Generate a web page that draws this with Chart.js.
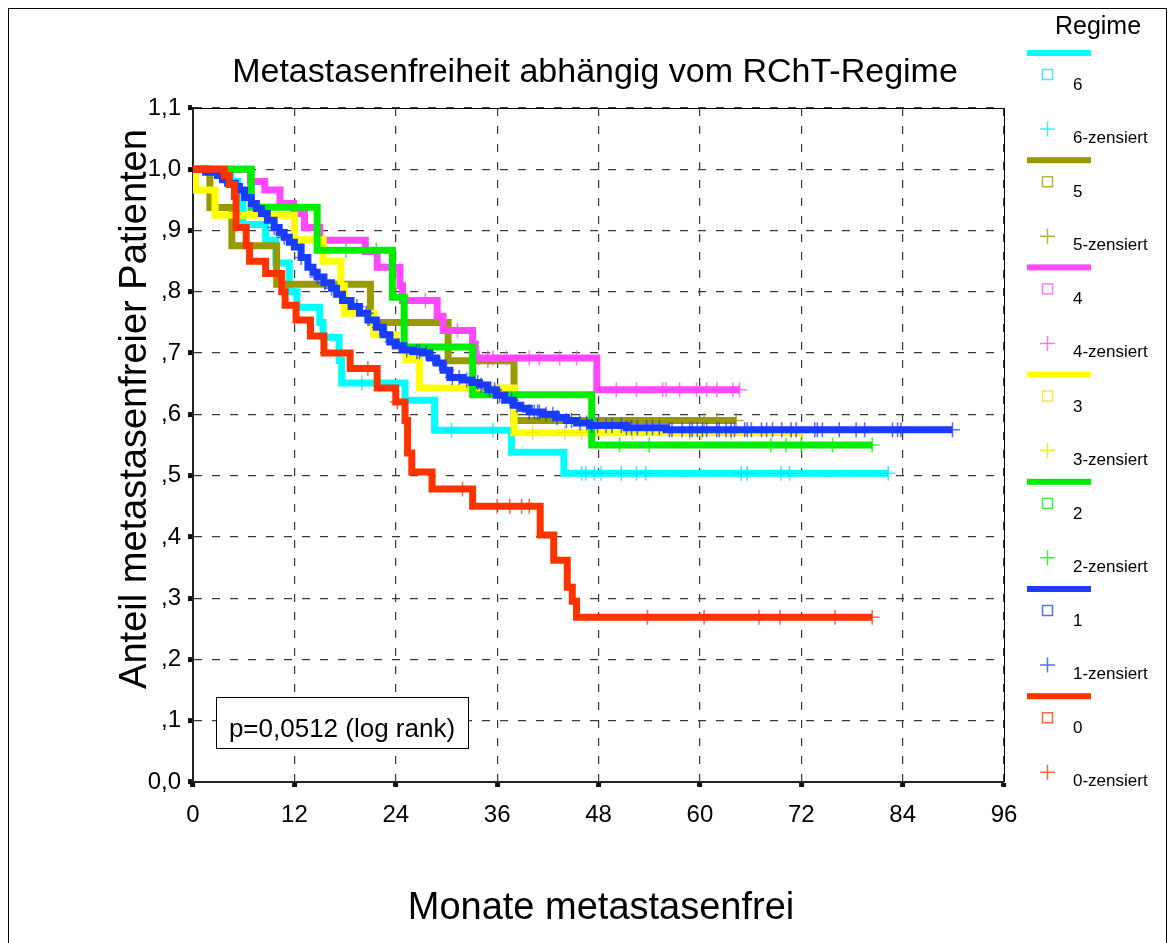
<!DOCTYPE html>
<html>
<head>
<meta charset="utf-8">
<script src="https://cdn.jsdelivr.net/npm/chart.js@4.4.0/dist/chart.umd.min.js"></script>
<style>
  html, body { margin: 0; padding: 0; background: #fff; }
  canvas { display: block; }
</style>
</head>
<body>
<canvas id="km" width="1175" height="943"></canvas>
<script>
// Kaplan-Meier: Monate bis Metastase, je Regime (Zeitpunkte + Anteil nach dem Ereignis)
const regime = ["0", "1", "2", "3", "4", "5", "6"];

const zeit0 = [0, 3.7, 4.3, 4.9, 5.1, 6.3, 6.7, 8.6, 10.5, 10.9, 12.2, 13.9, 15.5, 18.6, 21.8, 24.0, 25.1, 25.4, 25.9, 28.3, 33.1, 41.1, 42.7, 44.3, 44.9, 45.4, 80.4];
const anteil0 = [1.0, 0.99, 0.975, 0.955, 0.905, 0.875, 0.85, 0.83, 0.80, 0.778, 0.754, 0.728, 0.70, 0.675, 0.643, 0.62, 0.59, 0.537, 0.506, 0.478, 0.45, 0.403, 0.362, 0.318, 0.295, 0.269, 0.269];
const zens0 = [20.7, 24.2, 31.9, 36.0, 37.5, 38.9, 39.8, 53.8, 60.5, 67.0, 69.5, 76.0, 80.4];

const zeit1 = [0, 1.5, 2.9, 3.5, 4.1, 5.0, 5.5, 6.1, 6.9, 7.5, 8.1, 8.8, 9.6, 10.2, 10.8, 11.4, 12.0, 12.8, 13.6, 14.2, 14.7, 15.5, 16.4, 17.0, 17.7, 18.7, 19.7, 20.7, 21.7, 22.5, 23.3, 24.0, 24.8, 26.0, 27.2, 28.0, 28.8, 29.6, 30.4, 31.9, 33.0, 33.9, 34.9, 35.9, 36.9, 37.9, 38.8, 39.8, 41.4, 43.0, 44.2, 45.4, 47.0, 51.3, 56.0, 89.9];
const anteil1 = [1.0, 0.995, 0.99, 0.983, 0.977, 0.972, 0.966, 0.954, 0.944, 0.936, 0.928, 0.917, 0.905, 0.897, 0.889, 0.881, 0.873, 0.856, 0.84, 0.832, 0.824, 0.815, 0.806, 0.796, 0.786, 0.776, 0.765, 0.754, 0.742, 0.73, 0.718, 0.712, 0.705, 0.702, 0.70, 0.692, 0.684, 0.672, 0.66, 0.656, 0.652, 0.648, 0.64, 0.631, 0.623, 0.615, 0.61, 0.604, 0.60, 0.595, 0.59, 0.586, 0.582, 0.578, 0.575, 0.575];
const zens1 = [9.6, 10.8, 12.8, 14.7, 15.6, 16.4, 19.4, 20.5, 22.1, 22.9, 23.6, 24.4, 25.3, 26.5, 26.8, 27.6, 28.4, 29.2, 30.0, 30.7, 31.5, 32.4, 33.7, 34.1, 35.1, 35.7, 36.3, 37.7, 38.3, 39.8, 40.4, 40.8, 41.0, 41.8, 42.6, 43.1, 44.2, 44.8, 45.8, 46.6, 47.2, 47.9, 48.9, 49.6, 50.7, 51.3, 51.9, 52.6, 53.7, 54.4, 55.2, 56.4, 56.7, 57.9, 58.8, 59.1, 59.7, 60.3, 60.8, 62.0, 62.3, 63.1, 63.7, 64.1, 65.3, 65.6, 66.1, 67.3, 67.9, 68.6, 69.7, 70.8, 71.4, 73.6, 73.9, 74.5, 76.5, 78.5, 79.5, 82.8, 83.4, 83.8, 89.9];

const zeit2 = [0, 6.9, 14.7, 23.6, 25.0, 33.1, 47.2, 80.4];
const anteil2 = [1.0, 0.938, 0.868, 0.791, 0.71, 0.632, 0.55, 0.55];
const zens2 = [18.1, 21.7, 50.5, 54.0, 68.4, 70.2, 72.0, 75.7, 80.4];

const zeit3 = [0, 0.3, 2.6, 12.0, 15.4, 17.5, 17.9, 21.4, 24.0, 25.2, 26.8, 38.0, 72.1];
const anteil3 = [1.0, 0.966, 0.925, 0.885, 0.85, 0.81, 0.765, 0.73, 0.71, 0.69, 0.643, 0.57, 0.57];
const zens3 = [40.2, 44.0, 46.0, 52.0, 58.8, 60.2, 63.7, 70.8, 72.1];

const zeit4 = [0, 6.8, 8.5, 10.3, 11.9, 13.2, 15.0, 20.4, 21.8, 24.5, 24.8, 28.9, 29.6, 33.1, 33.4, 47.8, 64.7];
const anteil4 = [1.0, 0.98, 0.966, 0.944, 0.928, 0.905, 0.884, 0.866, 0.84, 0.81, 0.786, 0.76, 0.737, 0.715, 0.692, 0.64, 0.64];
const zens4 = [27.5, 31.3, 33.9, 34.9, 35.5, 37.1, 39.8, 41.0, 43.4, 45.4, 50.1, 52.5, 55.6, 56.0, 57.6, 59.6, 60.8, 62.0, 63.9, 64.7];

const zeit5 = [0, 2.0, 4.6, 9.9, 21.0, 30.2, 38.0, 64.3];
const anteil5 = [1.0, 0.9375, 0.875, 0.8125, 0.75, 0.6875, 0.59, 0.59];
const zens5 = [34.9, 60.5, 62.0, 64.3];

const zeit6 = [0, 4.5, 5.3, 5.9, 8.6, 9.8, 11.4, 12.3, 15.0, 15.4, 17.3, 17.6, 25.1, 28.6, 37.7, 43.9, 82.3];
const anteil6 = [1.0, 0.98, 0.955, 0.91, 0.884, 0.847, 0.80, 0.775, 0.75, 0.726, 0.688, 0.651, 0.623, 0.574, 0.538, 0.504, 0.504];
const zens6 = [20.0, 30.6, 35.5, 46.0, 46.5, 47.5, 48.3, 50.7, 52.5, 53.6, 64.9, 65.6, 69.6, 70.6, 82.3];

const xTicks = [0, 12, 24, 36, 48, 60, 72, 84, 96];
const yTicks = ["0,0", ",1", ",2", ",3", ",4", ",5", ",6", ",7", ",8", ",9", "1,0", "1,1"];

const zeiten = [zeit0, zeit1, zeit2, zeit3, zeit4, zeit5, zeit6];
const anteile = [anteil0, anteil1, anteil2, anteil3, anteil4, anteil5, anteil6];
const zensiert = [zens0, zens1, zens2, zens3, zens4, zens5, zens6];

const farben = ["#ff3300", "#1a3cff", "#00ee00", "#ffff00", "#ff48ff", "#999900", "#00ffff"];
const farbenHell = ["rgba(255,51,0,0.75)", "rgba(26,60,255,0.75)", "rgba(0,238,0,0.75)", "rgba(240,230,0,0.8)", "rgba(255,72,255,0.75)", "rgba(153,153,0,0.75)", "rgba(0,230,255,0.75)"];

const FONT = "Arial, 'Liberation Sans', sans-serif";

// value of the step curve at time t (for placing the censoring marks)
function anteilBei(g, t) {
  let v = anteile[g][0];
  zeiten[g].forEach((z, i) => { if (z <= t) v = anteile[g][i]; });
  return v;
}

const datasets = [];
regime.forEach((r, g) => {
  datasets.push({
    label: r + "-zensiert",
    data: zensiert[g].map(t => ({ x: t, y: anteilBei(g, t) })),
    showLine: false,
    pointStyle: "cross",
    pointRadius: 7.5,
    pointBorderWidth: 1.5,
    pointBorderColor: farbenHell[g],
    pointBackgroundColor: farbenHell[g],
  });
  datasets.push({
    label: r,
    data: zeiten[g].map((t, i) => ({ x: t, y: anteile[g][i] })),
    stepped: true,
    borderColor: farben[g],
    borderWidth: 7,
    borderJoinStyle: "miter",
    pointRadius: 0,
    fill: false,
  });
});

const decor = {
  id: "decor",
  afterDraw(chart) {
    const ctx = chart.ctx;
    const a = chart.chartArea;
    ctx.save();

    // outer frame
    ctx.strokeStyle = "#000";
    ctx.lineWidth = 1;
    ctx.strokeRect(8.5, 8.5, 1158, 1000);

    // top and right edge of plot box
    ctx.beginPath();
    ctx.moveTo(a.left, a.top + 0.5);
    ctx.lineTo(a.right + 0.5, a.top + 0.5);
    ctx.lineTo(a.right + 0.5, a.bottom);
    ctx.stroke();

    ctx.fillStyle = "#000";
    ctx.textBaseline = "alphabetic";

    // title
    ctx.textAlign = "center";
    ctx.font = "34px " + FONT;
    ctx.fillText("Metastasenfreiheit abhängig vom RChT-Regime", 595, 82);

    // axis titles
    ctx.font = "38px " + FONT;
    ctx.fillText("Monate metastasenfrei", 601, 919);
    ctx.save();
    ctx.translate(146, 409);
    ctx.rotate(-Math.PI / 2);
    ctx.fillText("Anteil metastasenfreier Patienten", 0, 0);
    ctx.restore();

    // p-value box
    ctx.fillStyle = "#fff";
    ctx.fillRect(216, 697, 252, 51);
    ctx.strokeRect(216.5, 697.5, 252, 51);
    ctx.fillStyle = "#000";
    ctx.font = "26px " + FONT;
    ctx.fillText("p=0,0512 (log rank)", 342, 737);

    // legend
    ctx.font = "25px " + FONT;
    ctx.fillText("Regime", 1098, 34);
    const order = [6, 5, 4, 3, 2, 1, 0];
    order.forEach((g, i) => {
      const y0 = 53 + i * 107.2;
      ctx.fillStyle = farben[g];
      ctx.fillRect(1027, y0 - 3, 64, 6);
      ctx.strokeStyle = farbenHell[g];
      ctx.lineWidth = 1.5;
      ctx.strokeRect(1042.5, y0 + 16.5, 10, 10);
      ctx.beginPath();
      ctx.moveTo(1040, y0 + 76);
      ctx.lineTo(1055, y0 + 76);
      ctx.moveTo(1047.5, y0 + 68.5);
      ctx.lineTo(1047.5, y0 + 83.5);
      ctx.stroke();
      ctx.fillStyle = "#000";
      ctx.font = "17px " + FONT;
      ctx.textAlign = "left";
      ctx.fillText(regime[g], 1073, y0 + 37);
      ctx.fillText(regime[g] + "-zensiert", 1073, y0 + 90);
      ctx.textAlign = "center";
    });

    ctx.restore();
  }
};

new Chart(document.getElementById("km"), {
  type: "line",
  data: { datasets: datasets },
  options: {
    responsive: false,
    animation: false,
    events: [],
    layout: { padding: { left: 0, top: 108, right: 171, bottom: 0 } },
    plugins: {
      legend: { display: false },
      tooltip: { enabled: false },
    },
    scales: {
      x: {
        type: "linear",
        min: 0,
        max: 96,
        afterBuildTicks: (scale) => { scale.ticks = xTicks.map(v => ({ value: v })); },
        afterFit: (scale) => { scale.height = 161; },
        ticks: {
          color: "#000",
          font: { family: FONT, size: 24 },
          padding: 14,
          maxRotation: 0,
          autoSkip: false,
        },
        grid: {
          color: "#3a3a3a",
          lineWidth: 1.2,
          tickLength: 5,
          tickWidth: 5,
          tickColor: "#111",
        },
        border: { color: "#222", width: 2, dash: [8, 10] },
      },
      y: {
        type: "linear",
        min: 0,
        max: 1.1,
        afterBuildTicks: (scale) => { scale.ticks = yTicks.map((s, i) => ({ value: i / 10 })); },
        afterFit: (scale) => { scale.width = 193; },
        ticks: {
          color: "#000",
          font: { family: FONT, size: 24 },
          padding: 7,
          autoSkip: false,
          callback: (v, i) => yTicks[i],
        },
        grid: {
          color: "#3a3a3a",
          lineWidth: 1.2,
          tickLength: 5,
          tickWidth: 5,
          tickColor: "#111",
        },
        border: { color: "#222", width: 2, dash: [8, 10] },
      },
    },
  },
  plugins: [decor],
});
</script>
</body>
</html>
